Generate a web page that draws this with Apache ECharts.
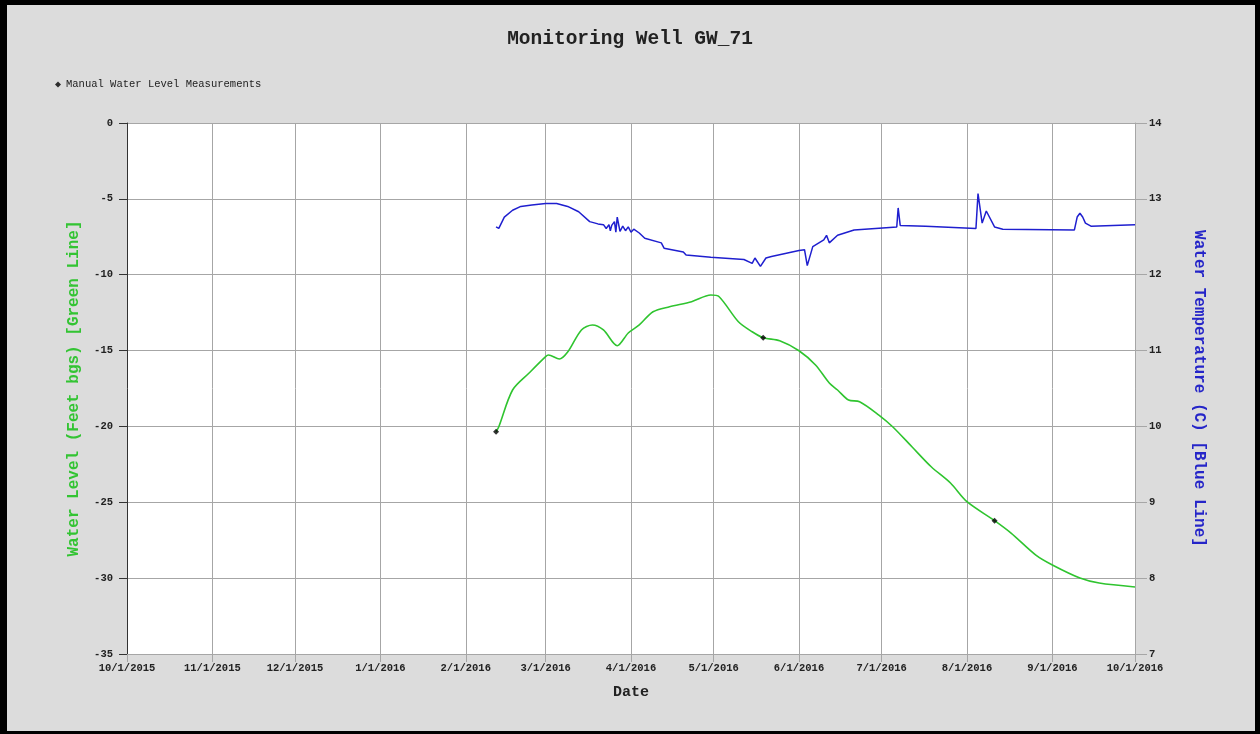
<!DOCTYPE html>
<html>
<head>
<meta charset="utf-8">
<title>Monitoring Well GW_71</title>
<script src="https://cdn.jsdelivr.net/npm/echarts@6/dist/echarts.min.js"></script>
<style>
  html, body { margin: 0; padding: 0; background: #dcdcdc; }
  #chart { width: 1260px; height: 734px; }
</style>
</head>
<body>
<div id="chart"></div>
<script>
// Monthly tick positions along the date axis
const monthTicks = [
  '2015-10-01', '2015-11-01', '2015-12-01', '2016-01-01', '2016-02-01', '2016-03-01',
  '2016-04-01', '2016-05-01', '2016-06-01', '2016-07-01', '2016-08-01', '2016-09-01', '2016-10-01'
];

// Continuous water level record (feet below ground surface)
const waterLevel = [
  ['2016-02-12', -20.35], ['2016-02-13', -20.02], ['2016-02-18', -17.60], ['2016-02-24', -16.48],
  ['2016-03-01', -15.40], ['2016-03-02', -15.29], ['2016-03-06', -15.56], ['2016-03-09', -15.10],
  ['2016-03-14', -13.64], ['2016-03-18', -13.31], ['2016-03-22', -13.64], ['2016-03-27', -14.68],
  ['2016-03-31', -13.84], ['2016-04-04', -13.31], ['2016-04-09', -12.44], ['2016-04-15', -12.11],
  ['2016-04-23', -11.78], ['2016-04-30', -11.34], ['2016-05-03', -11.45], ['2016-05-10', -13.10],
  ['2016-05-15', -13.76], ['2016-05-19', -14.15], ['2016-05-25', -14.35], ['2016-06-01', -15.01],
  ['2016-06-07', -15.95], ['2016-06-12', -17.14], ['2016-06-15', -17.60], ['2016-06-19', -18.26],
  ['2016-06-23', -18.37], ['2016-06-30', -19.25], ['2016-07-05', -20.02], ['2016-07-12', -21.34],
  ['2016-07-19', -22.66], ['2016-07-26', -23.73], ['2016-08-01', -24.96], ['2016-08-11', -26.21],
  ['2016-08-17', -27.03], ['2016-08-26', -28.48], ['2016-09-01', -29.13], ['2016-09-11', -29.99],
  ['2016-09-18', -30.32], ['2016-10-01', -30.58]
];

// Hand-taken water level readings
const manualLevels = [
  ['2016-02-12', -20.35], ['2016-05-19', -14.15], ['2016-08-11', -26.21]
];

// Continuous water temperature record (degrees C)
const waterTemp = [
  ['2016-02-12', 12.63], ['2016-02-13', 12.61], ['2016-02-15', 12.76], ['2016-02-18', 12.85],
  ['2016-02-21', 12.90], ['2016-02-25', 12.92], ['2016-03-01', 12.94], ['2016-03-05', 12.94],
  ['2016-03-09', 12.90], ['2016-03-13', 12.83], ['2016-03-17', 12.70], ['2016-03-20', 12.67],
  ['2016-03-22', 12.66], ['2016-03-23', 12.61], ['2016-03-24', 12.66], ['2016-03-24T12:00', 12.58],
  ['2016-03-25', 12.65], ['2016-03-26', 12.70], ['2016-03-26T12:00', 12.56], ['2016-03-27', 12.76],
  ['2016-03-28', 12.57], ['2016-03-29', 12.64], ['2016-03-30', 12.58], ['2016-03-31', 12.63],
  ['2016-04-01', 12.56], ['2016-04-02', 12.60], ['2016-04-04', 12.55], ['2016-04-06', 12.48],
  ['2016-04-12', 12.42], ['2016-04-13', 12.35], ['2016-04-20', 12.30], ['2016-04-21', 12.26],
  ['2016-04-30', 12.23], ['2016-05-12', 12.20], ['2016-05-15', 12.15], ['2016-05-16', 12.22],
  ['2016-05-18', 12.11], ['2016-05-20', 12.22], ['2016-05-22', 12.24], ['2016-06-01', 12.32],
  ['2016-06-03', 12.33], ['2016-06-04', 12.12], ['2016-06-06', 12.37], ['2016-06-10', 12.46],
  ['2016-06-11', 12.52], ['2016-06-12', 12.42], ['2016-06-15', 12.52], ['2016-06-21', 12.59],
  ['2016-07-06T12:00', 12.63], ['2016-07-07', 12.88], ['2016-07-07T18:00', 12.65], ['2016-07-17', 12.64],
  ['2016-08-04T06:00', 12.61], ['2016-08-05', 13.07], ['2016-08-06T12:00', 12.68], ['2016-08-08', 12.84],
  ['2016-08-11', 12.63], ['2016-08-14', 12.60], ['2016-09-09', 12.59], ['2016-09-10', 12.76],
  ['2016-09-11', 12.81], ['2016-09-12', 12.76], ['2016-09-13', 12.68], ['2016-09-15', 12.64],
  ['2016-10-01', 12.66]
];

const MONO = '"Liberation Mono", "Courier New", monospace';
const TEXT = '#222';
const GRID = '#a6a6a6';

// 'YYYY-MM-DD' or 'YYYY-MM-DDTHH:mm' -> epoch milliseconds (local time)
function toTime(s) {
  const [datePart, timePart] = s.split('T');
  const [y, m, d] = datePart.split('-').map(Number);
  let hh = 0, mm = 0;
  if (timePart) { [hh, mm] = timePart.split(':').map(Number); }
  return new Date(y, m - 1, d, hh, mm).getTime();
}
const asPoints = rows => rows.map(([t, v]) => [toTime(t), v]);
const tickTimes = monthTicks.map(toTime);

function fmtDate(v) {
  const d = new Date(v);
  return (d.getMonth() + 1) + '/' + d.getDate() + '/' + d.getFullYear();
}

const chart = echarts.init(document.getElementById('chart'), null, { renderer: 'canvas' });

chart.setOption({
  backgroundColor: '#dcdcdc',
  animation: false,
  title: {
    text: 'Monitoring Well GW_71',
    left: 'center',
    top: 24,
    textStyle: { fontFamily: MONO, fontWeight: 'bold', fontSize: 19.5, color: TEXT }
  },
  legend: {
    left: 50,
    top: 74,
    itemWidth: 6,
    itemHeight: 6,
    itemGap: 4,
    data: [{ name: 'Manual Water Level Measurements', icon: 'diamond' }],
    textStyle: { fontFamily: MONO, fontSize: 10.5, color: TEXT }
  },
  grid: { left: 127, right: 125, top: 123, bottom: 80, show: true, backgroundColor: '#ffffff', borderWidth: 0 },
  xAxis: {
    type: 'value',
    min: tickTimes[0],
    max: tickTimes[tickTimes.length - 1],
    name: 'Date',
    nameLocation: 'middle',
    nameGap: 31,
    nameTextStyle: { fontFamily: MONO, fontWeight: 'bold', fontSize: 15, color: TEXT },
    axisLine: { show: true, onZero: false, lineStyle: { color: GRID, width: 1 } },
    axisTick: { show: true, length: 8, customValues: tickTimes, lineStyle: { color: GRID } },
    axisLabel: {
      customValues: tickTimes,
      formatter: fmtDate,
      margin: 9,
      fontFamily: MONO, fontWeight: 'bold', fontSize: 10.5, color: TEXT
    },
    splitLine: { show: true, lineStyle: { color: GRID, width: 1 } }
  },
  yAxis: [
    {
      type: 'value',
      position: 'left',
      min: -35,
      max: 0,
      interval: 5,
      name: 'Water Level (Feet bgs) [Green Line]',
      nameLocation: 'middle',
      nameRotate: 90,
      nameGap: 45,
      nameTextStyle: { fontFamily: MONO, fontWeight: 'bold', fontSize: 16, color: '#33c433' },
      axisLine: { show: true, onZero: false, lineStyle: { color: '#333', width: 1 } },
      axisTick: { show: true, length: 8, lineStyle: { color: '#333' } },
      axisLabel: { margin: 14, fontFamily: MONO, fontWeight: 'bold', fontSize: 10.5, color: TEXT },
      splitLine: { show: true, lineStyle: { color: GRID, width: 1 } }
    },
    {
      type: 'value',
      position: 'right',
      min: 7,
      max: 14,
      interval: 1,
      name: 'Water Temperature (C) [Blue Line]',
      nameLocation: 'middle',
      nameRotate: -90,
      nameGap: 56,
      nameTextStyle: { fontFamily: MONO, fontWeight: 'bold', fontSize: 16, color: '#2525c8' },
      axisLine: { show: true, onZero: false, lineStyle: { color: GRID, width: 1 } },
      axisTick: { show: true, length: 12, lineStyle: { color: GRID } },
      axisLabel: { margin: 14, fontFamily: MONO, fontWeight: 'bold', fontSize: 10.5, color: TEXT },
      splitLine: { show: false }
    }
  ],
  series: [
    {
      name: 'Water Level',
      type: 'line',
      yAxisIndex: 0,
      data: asPoints(waterLevel),
      showSymbol: false,
      smooth: 0.3,
      lineStyle: { color: '#2fc42f', width: 1.6 },
      itemStyle: { color: '#2fc42f' },
      z: 3
    },
    {
      name: 'Water Temperature',
      type: 'line',
      yAxisIndex: 1,
      data: asPoints(waterTemp),
      showSymbol: false,
      lineStyle: { color: '#1f1fcf', width: 1.5 },
      itemStyle: { color: '#1f1fcf' },
      z: 3
    },
    {
      name: 'Manual Water Level Measurements',
      type: 'scatter',
      yAxisIndex: 0,
      data: asPoints(manualLevels),
      symbol: 'diamond',
      symbolSize: 6,
      itemStyle: { color: '#000' },
      z: 5
    }
  ],
  graphic: [
    // outer black frame
    { type: 'rect', shape: { x: 0, y: 0, width: 7, height: 734 }, style: { fill: '#000' }, z: 100 },
    { type: 'rect', shape: { x: 0, y: 0, width: 1260, height: 5 }, style: { fill: '#000' }, z: 100 },
    { type: 'rect', shape: { x: 1255, y: 0, width: 5, height: 734 }, style: { fill: '#000' }, z: 100 },
    { type: 'rect', shape: { x: 0, y: 731, width: 1260, height: 3 }, style: { fill: '#000' }, z: 100 }
  ]
});
</script>
</body>
</html>
